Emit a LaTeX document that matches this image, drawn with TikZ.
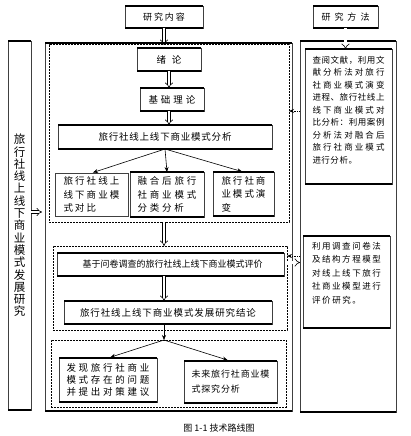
\documentclass[tikz,border=0pt]{standalone}
\usepackage{fontspec}
\setmainfont{Noto Sans CJK SC}
\usetikzlibrary{arrows.meta, positioning}

% spread the characters of a line over a given width
\def\spr#1{\sprA#1\relax}
\def\sprA#1#2{#1\ifx\relax#2\else\hfil\expandafter\sprA\expandafter#2\fi}
\newcommand\spreadto[2]{\hbox to #1{\spr{#2}}}

\begin{document}
\begin{tikzpicture}[x=1pt, y=-1pt,
    box/.style={draw=black!75, line width=0.5pt, inner sep=0pt, outer sep=0pt,
      font=\fontsize{9.5}{13.5}\selectfont, align=left},
    frame/.style={draw=black!75, line width=0.5pt, inner sep=0pt, outer sep=0pt},
    dbox/.style={draw, line width=1pt, dash pattern=on 1.6pt off 1.4pt, inner sep=0pt, outer sep=0pt},
    rtxt/.style={font=\fontsize{8.5}{12.5}\selectfont, align=left, inner sep=0pt},
    hollow/.style={double, double distance=2.2pt, line width=0.6pt, -{Implies}},
    arr/.style={-{Stealth[length=5pt, width=4pt]}, line width=0.6pt},
    dotarr/.style={-{Stealth[length=5pt, width=4pt]}, line width=1pt, dash pattern=on 1.2pt off 1pt}]
    \useasboundingbox (0,0) rectangle (411,436);

    % outer frames
    \node[frame, minimum width=23pt, minimum height=369pt, align=center,
      font=\fontsize{11.5}{12.3}\selectfont] (lb) at (19.5,225.5)
      {旅\\行\\社\\线\\上\\线\\下\\商\\业\\模\\式\\发\\展\\研\\究};
    \node[frame, minimum width=247pt, minimum height=368pt] (main) at (168.5,227) {};
    \node[frame, minimum width=96pt, minimum height=371pt] (ro) at (348,226.5) {};
    \node[dbox, minimum width=240pt, minimum height=177pt] (d1) at (169,133.5) {};
    \node[dbox, minimum width=234pt, minimum height=84pt] (d2) at (170,288) {};
    \node[dbox, minimum width=235pt, minimum height=67pt] (d3) at (168.5,373.5) {};

    % headings
    \node[box, minimum width=78pt, minimum height=22pt, font=\fontsize{9}{11}\selectfont]
      (nr) at (164,17) {\spreadto{42pt}{研究内容}};
    \node[box, minimum width=65pt, minimum height=22pt, font=\fontsize{9}{11}\selectfont]
      (nf) at (345.5,17) {\spreadto{48pt}{研究方法}};

    % research content
    \node[box, minimum width=64pt, minimum height=23pt] (xl) at (169,59.5) {\spreadto{25pt}{绪论}};
    \node[box, minimum width=64pt, minimum height=23pt] (jc) at (172,99.5) {\spreadto{47pt}{基础理论}};
    \node[box, minimum width=214pt, minimum height=24pt] (fx) at (165,137)
      {\spreadto{133pt}{旅行社线上线下商业模式分析}};
    \node[box, minimum width=73pt, minimum height=43pt] (a) at (91.5,194.5)
      {\spreadto{56pt}{旅行社线上}\\\spreadto{56pt}{线下商业模}\\\spreadto{32.5pt}{式对比}};
    \node[box, minimum width=74pt, minimum height=45pt] (b) at (167,194.5)
      {\spreadto{59pt}{融合后旅行}\\\spreadto{59pt}{社商业模式}\\\spreadto{46.5pt}{分类分析}};
    \node[box, minimum width=61pt, minimum height=44pt] (c) at (243.5,194)
      {\spreadto{44pt}{旅行社商}\\\spreadto{44pt}{业模式演}\\变};
    \node[box, minimum width=227pt, minimum height=23pt, font=\fontsize{9}{11}\selectfont]
      (pj) at (170.5,264.5) {\spreadto{176pt}{基于问卷调查的旅行社线上线下商业模式评价}};
    \node[box, minimum width=208pt, minimum height=23pt] (jl) at (168,312.5)
      {\spreadto{176pt}{旅行社线上线下商业模式发展研究结论}};
    \node[box, minimum width=98pt, minimum height=44pt, font=\fontsize{9.5}{12}\selectfont]
      (d) at (108,380)
      {\spreadto{83pt}{发现旅行社商业}\\\spreadto{83pt}{模式存在的问题}\\\spreadto{83pt}{并提出对策建议}};
    \node[box, minimum width=93pt, minimum height=42pt, font=\fontsize{9}{15}\selectfont]
      (e) at (230.5,382) {\spreadto{78pt}{未来旅行社商业模}\\\spreadto{48.5pt}{式探究分析}};

    % research methods
    \node[frame, minimum width=87pt, minimum height=135pt] (r1) at (348.5,116.5) {};
    \node[rtxt, anchor=north, below=7pt of r1.north] (r1t)
      {\spreadto{72pt}{查阅文献，利用文}\\\spreadto{72pt}{献分析法对旅行}\\
       \spreadto{72pt}{社商业模式演变}\\\spreadto{72pt}{进程、旅行社线上}\\
       \spreadto{72pt}{线下商业模式对}\\\spreadto{72pt}{比分析：利用案例}\\
       \spreadto{72pt}{分析法对融合后}\\\spreadto{72pt}{旅行社商业模式}\\
       \spreadto{44.5pt}{进行分析。}};
    \node[frame, minimum width=87pt, minimum height=92pt] (r2) at (346.5,282) {};
    \node[rtxt, font=\fontsize{8.5}{13.5}\selectfont, below=6pt of r2.north] (r2t)
      {\spreadto{69pt}{利用调查问卷法}\\\spreadto{69pt}{及结构方程模型}\\
       \spreadto{69pt}{对线上线下旅行}\\\spreadto{69pt}{社商业模型进行}\\
       \spreadto{49pt}{评价研究。}};

    \node[font=\fontsize{9}{11}\selectfont] (cap) at (219,428) {图 1-1 技术路线图};

    % heavier top and bottom edges
    \foreach \n in {nr, nf, lb, main, ro, r1, r2, xl, jc, fx, b, c, pj, jl, d, e}
      \draw[line width=1.3pt] (\n.north west) -- (\n.north east) (\n.south west) -- (\n.south east);

    % connectors
    \coordinate (q1) at (ro.west |- jc.south);
    \coordinate (q2) at (300,256);
    \coordinate (q3) at (300,262.5);
    \coordinate (q4) at (lb.east |- 0,212);
    \coordinate (br) at (nr.south |- d3.north);

    \draw[hollow] (nr.south) -- (nr.south |- d1.north);
    \draw[hollow] (nf.south) -- (nf.south |- r1.north);
    \draw[hollow] (xl.south) -- (xl.south |- jc.north);
    \draw[hollow] (xl.south |- jc.south) -- (xl.south |- fx.north);
    \draw[arr, shorten >=1.5pt] (fx.south) -- (a.north);
    \draw[arr] (fx.south) -- (b.north);
    \draw[arr, shorten >=1.5pt] (fx.south) -- (c.north);
    \draw[hollow] (nr.south |- d1.south) -- (nr.south |- d2.north);
    \draw[hollow] (nr.south |- pj.south) -- (nr.south |- jl.north);
    \draw[arr] (nr.south |- jl.south) -- (br);
    \draw[arr, shorten >=2.5pt] (br) -- (d.north);
    \draw[arr, shorten >=3pt] (br) -- (e.north);
    \draw[dotarr] (q1) -- (q1 -| d1.east);
    \draw[dotarr] (q2) -- (q2 -| d2.east);
    \draw[hollow] (q3 -| d2.east) -- (q3);
    \draw[hollow, shorten >=3pt] (q4) -- (q4 -| main.west);
\end{tikzpicture}
\end{document}
